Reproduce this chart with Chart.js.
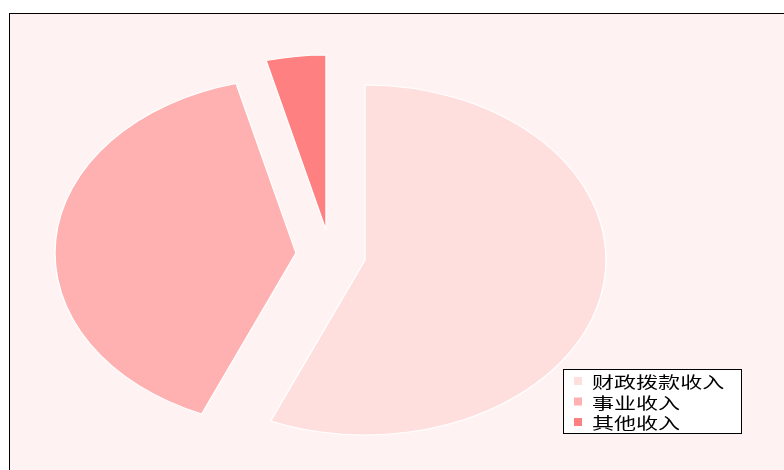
<!DOCTYPE html>
<html>
<head>
<meta charset="utf-8">
<script src="https://cdn.jsdelivr.net/npm/chart.js@4.4.1/dist/chart.umd.min.js"></script>
<style>
  html, body { margin: 0; padding: 0; background: #fff; }
  #wrap { width: 784px; height: 470px; }
</style>
</head>
<body>
<div id="wrap"><canvas id="pie" width="784" height="470"></canvas></div>
<script>
// data
const categories = ['财政拨款收入', '事业收入', '其他收入'];
const shares = [56.4, 39.6, 4.0];
const sliceColors = ['#ffdede', '#ffb0b0', '#ff8080'];

// how far each slice is pulled out (screen px)
const explode = [[0, 0], [-69, -7], [-39, -30]];
// the original picture is stretched sideways
const stretchX = 241 / 175;

const framePlugin = {
  id: 'frame',
  beforeDraw(chart) {
    const ctx = chart.ctx;
    ctx.save();
    ctx.fillStyle = '#ffffff';
    ctx.fillRect(0, 0, chart.width, chart.height);
    ctx.fillStyle = '#fff2f2';
    ctx.fillRect(10, 14, chart.width, chart.height);
    ctx.strokeStyle = '#000';
    ctx.lineWidth = 1;
    ctx.strokeRect(9.5, 13.5, chart.width + 20, chart.height + 20);
    ctx.restore();
  },
  afterUpdate(chart) {
    const meta = chart.getDatasetMeta(0);
    meta.data.forEach((arc, i) => {
      if (arc._exploded) return;
      const orig = arc.draw.bind(arc);
      arc.draw = function (ctx) {
        ctx.save();
        ctx.translate(explode[i][0] / stretchX, explode[i][1]);
        orig(ctx);
        ctx.restore();
      };
      arc._exploded = true;
    });
  },
  beforeDatasetsDraw(chart) {
    const ctx = chart.ctx;
    const arc = chart.getDatasetMeta(0).data[0];
    ctx.save();
    ctx.translate(arc.x, arc.y);
    ctx.scale(stretchX, 1);
    ctx.translate(-arc.x, -arc.y);
  },
  afterDatasetsDraw(chart) {
    chart.ctx.restore();
  },
  afterDraw(chart) {
    // legend box, bottom right
    const ctx = chart.ctx;
    ctx.save();
    ctx.fillStyle = '#ffffff';
    ctx.fillRect(563.5, 369.5, 178, 64);
    ctx.strokeStyle = '#000';
    ctx.lineWidth = 1;
    ctx.strokeRect(563.5, 369.5, 178, 64);
    categories.forEach((name, i) => {
      const y = 381 + i * 20.5;
      ctx.fillStyle = sliceColors[i];
      ctx.fillRect(574, y - 4, 8, 8);
      ctx.save();
      ctx.translate(592, y + 1);
      ctx.scale(stretchX, 1);
      ctx.fillStyle = '#000';
      ctx.font = '16px "Noto Sans CJK SC", sans-serif';
      ctx.textBaseline = 'middle';
      ctx.fillText(name, 0, 0);
      ctx.restore();
    });
    ctx.restore();
  }
};

new Chart(document.getElementById('pie'), {
  type: 'pie',
  data: {
    labels: categories,
    datasets: [{
      data: shares,
      backgroundColor: sliceColors,
      borderColor: '#ffffff',
      borderWidth: 1
    }]
  },
  options: {
    responsive: false,
    animation: false,
    events: [],
    radius: 175,
    layout: { padding: { left: 0, right: 54, top: 50, bottom: 0 } },
    plugins: {
      legend: { display: false },
      tooltip: { enabled: false }
    }
  },
  plugins: [framePlugin]
});
</script>
</body>
</html>
